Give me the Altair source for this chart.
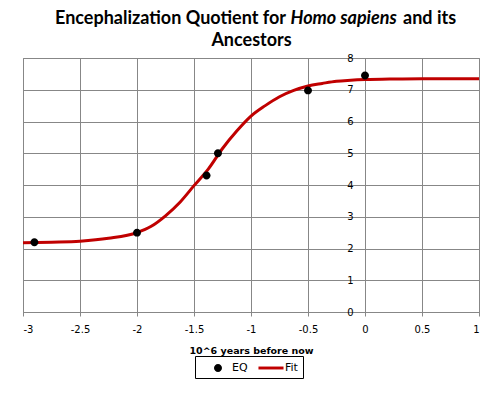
import altair as alt
import pandas as pd

# Observed data (EQ)
eq_x = [-2.9, -2.0, -1.39, -1.29, -0.5, 0.0]
eq_y = [2.2, 2.5, 4.3, 5.0, 6.98, 7.45]

# Fit curve
fit_x = [-3.0, -2.75, -2.5, -2.25, -2.0, -1.875, -1.75, -1.625, -1.5, -1.375,
         -1.25, -1.125, -1.0, -0.875, -0.75, -0.625, -0.5, -0.375, -0.25,
         -0.125, 0.0, 0.25, 0.5, 0.75, 1.0]
fit_y = [2.18, 2.2, 2.23, 2.32, 2.5, 2.7, 3.03, 3.45, 3.98, 4.5,
         5.15, 5.7, 6.17, 6.5, 6.78, 6.98, 7.12, 7.2, 7.27,
         7.3, 7.32, 7.34, 7.35, 7.35, 7.35]

series_names = ["EQ", "Fit"]
series_colors = ["#000000", "#c00000"]
x_ticks = [-3, -2.5, -2, -1.5, -1, -0.5, 0, 0.5, 1]
y_ticks = [0, 1, 2, 3, 4, 5, 6, 7, 8]

title_parts = ["Encephalization Quotient for", "Homo sapiens", "and its", "Ancestors"]
x_title = "10^6 years before now"

GRID = "#878787"
circle_path = "M0.57,0A0.57,0.57,0,1,1,-0.57,0A0.57,0.57,0,1,1,0.57,0Z"
bar_path = "M-1.79,-0.21L1.79,-0.21L1.79,0.21L-1.79,0.21Z"

pts = pd.DataFrame({"x": eq_x, "y": eq_y, "series": ["EQ"] * len(eq_x)})
fit = pd.DataFrame({"x": fit_x, "y": fit_y})

xscale = alt.Scale(domain=[-3, 1], nice=False, zero=False)
yscale = alt.Scale(domain=[0, 8], nice=False, zero=False)

x_axis = alt.Axis(values=x_ticks, title=x_title, grid=True, gridColor=GRID,
                  domainColor=GRID, tickColor=GRID, tickSize=4,
                  labelFont="DejaVu Sans", labelFontSize=10, labelColor="black",
                  labelPadding=8, labelExpr="'' + datum.value",
                  titleFont="DejaVu Sans", titleFontSize=9.5, titleFontWeight="bold",
                  titleColor="black", titlePadding=11)
y_axis = alt.Axis(values=y_ticks, title=None, grid=True, gridColor=GRID,
                  domainColor=GRID, tickColor=GRID, tickSize=4, offset=-342,
                  labelFont="DejaVu Sans", labelFontSize=10, labelColor="black",
                  labelPadding=8, labelOverlap=False, labelExpr="'' + datum.value")

line = alt.Chart(fit).mark_line(color="#c00000", strokeWidth=3, interpolate="monotone").encode(
    x=alt.X("x:Q", scale=xscale, axis=x_axis),
    y=alt.Y("y:Q", scale=yscale, axis=y_axis),
)

points = alt.Chart(pts).mark_point(filled=True, size=196, opacity=1, strokeWidth=0).encode(
    x=alt.X("x:Q", scale=xscale, axis=x_axis),
    y=alt.Y("y:Q", scale=yscale, axis=y_axis),
    color=alt.Color("series:N", title=None,
                    scale=alt.Scale(domain=series_names, range=series_colors)),
    shape=alt.Shape("series:N", title=None,
                    scale=alt.Scale(domain=series_names, range=[circle_path, bar_path])),
)

def txt(s, x, y, align, italic=False):
    return alt.Chart(pd.DataFrame({"t": [s]})).mark_text(
        font="Lato", fontSize=18, fontWeight="bold",
        fontStyle="italic" if italic else "normal",
        align=align, baseline="alphabetic", color="black",
    ).encode(x=alt.value(x), y=alt.value(y), text="t:N")

t1 = txt(title_parts[0], 263, -34, "right")
t2 = txt(title_parts[1], 267.5, -34, "left", italic=True)
t3 = txt(title_parts[2], 380, -34, "left")
t4 = txt(title_parts[3], 228.5, -12, "center")

chart = alt.layer(line, points, t1, t2, t3, t4).properties(
    width=456, height=254,
    autosize=alt.AutoSizeParams(type="none"),
    padding={"left": 15, "top": 50, "right": 13, "bottom": 69},
).configure_view(stroke=GRID).configure_legend(
    orient="none", legendX=172, legendY=298, direction="horizontal",
    strokeColor="black", fillColor="white", padding=5,
    labelFont="DejaVu Sans", labelFontSize=11, labelColor="black",
    symbolSize=196, symbolStrokeWidth=0, symbolOffset=11, labelOffset=7,
    columnPadding=5,
)

chart.save("out.html", embed_options={"renderer": "svg", "actions": False})
